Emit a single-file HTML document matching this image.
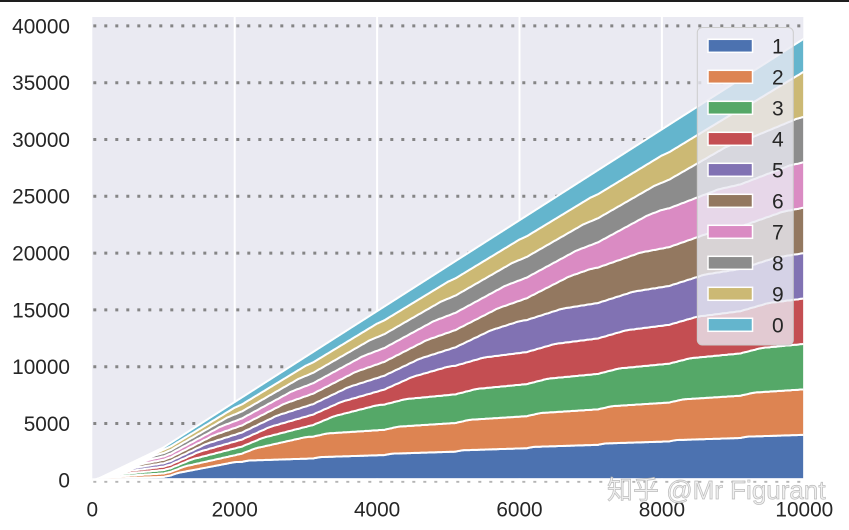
<!DOCTYPE html>
<html><head><meta charset="utf-8">
<style>
html,body{margin:0;padding:0;background:#fff;}
svg{display:block;}
text{font-family:"Liberation Sans","Noto Sans CJK SC",sans-serif;}
</style></head>
<body>
<svg id="s" width="849" height="530" viewBox="0 0 849 530" xmlns="http://www.w3.org/2000/svg">
<rect x="0" y="0" width="849" height="530" fill="#fff"/>
<rect x="0" y="0" width="849" height="2" fill="#1e1e1e"/>
<defs><clipPath id="ax"><rect x="93.3" y="18" width="710" height="460.3"/></clipPath></defs>
<rect x="92.3" y="17" width="712" height="463.3" fill="#EAEAF2"/>
<g stroke="#ffffff" stroke-width="2">
<line x1="234.7" y1="17" x2="234.7" y2="480"/>
<line x1="377.1" y1="17" x2="377.1" y2="480"/>
<line x1="519.5" y1="17" x2="519.5" y2="480"/>
<line x1="661.9" y1="17" x2="661.9" y2="480"/>
</g>
<g stroke="#858585" stroke-width="3" stroke-dasharray="3 8">
<line x1="93.3" y1="423.5" x2="803.3" y2="423.5"/>
<line x1="93.3" y1="366.7" x2="803.3" y2="366.7"/>
<line x1="93.3" y1="309.9" x2="803.3" y2="309.9"/>
<line x1="93.3" y1="253.1" x2="803.3" y2="253.1"/>
<line x1="93.3" y1="196.3" x2="803.3" y2="196.3"/>
<line x1="93.3" y1="139.5" x2="803.3" y2="139.5"/>
<line x1="93.3" y1="82.7" x2="803.3" y2="82.7"/>
<line x1="93.3" y1="25.9" x2="803.3" y2="25.9"/>
</g>
<g id="stack" clip-path="url(#ax)"></g>
<rect x="92.3" y="478.3" width="713" height="3" fill="#fff"/>
<rect x="803.3" y="16" width="3" height="466" fill="#fff"/>
<line x1="93.3" y1="481.8" x2="805" y2="481.8" stroke="#b4b4b4" stroke-width="1.8" stroke-dasharray="3 8"/>

<g fill="#262626" font-size="20.8" text-anchor="end">
<text x="70" y="487.7">0</text>
<text x="70" y="430.9">5000</text>
<text x="70" y="374.1">10000</text>
<text x="70" y="317.3">15000</text>
<text x="70" y="260.5">20000</text>
<text x="70" y="203.7">25000</text>
<text x="70" y="146.9">30000</text>
<text x="70" y="90.1">35000</text>
<text x="70" y="33.3">40000</text>
</g>
<g fill="#262626" font-size="20.8" text-anchor="middle">
<text x="92.3" y="516.7">0</text>
<text x="234.7" y="516.7">2000</text>
<text x="377.1" y="516.7">4000</text>
<text x="519.5" y="516.7">6000</text>
<text x="661.9" y="516.7">8000</text>
<text x="804.3" y="516.7">10000</text>
</g>

<rect x="697.3" y="27.5" width="96" height="317.5" rx="5" ry="5" fill="#EAEAF2" fill-opacity="0.8" stroke="#cccccc" stroke-width="1"/>
<g id="legend" stroke="#fff" stroke-width="1.5">
<rect x="708" y="39.3" width="44.5" height="13" fill="#4C72B0"/>
<rect x="708" y="70.3" width="44.5" height="13" fill="#DD8452"/>
<rect x="708" y="101.3" width="44.5" height="13" fill="#55A868"/>
<rect x="708" y="132.3" width="44.5" height="13" fill="#C44E52"/>
<rect x="708" y="163.3" width="44.5" height="13" fill="#8172B3"/>
<rect x="708" y="194.3" width="44.5" height="13" fill="#937860"/>
<rect x="708" y="225.3" width="44.5" height="13" fill="#DA8BC3"/>
<rect x="708" y="256.3" width="44.5" height="13" fill="#8C8C8C"/>
<rect x="708" y="287.3" width="44.5" height="13" fill="#CCB974"/>
<rect x="708" y="318.3" width="44.5" height="13" fill="#64B5CD"/>
</g>
<g fill="#262626" font-size="21">
<text x="772" y="53.3">1</text>
<text x="772" y="84.3">2</text>
<text x="772" y="115.3">3</text>
<text x="772" y="146.3">4</text>
<text x="772" y="177.3">5</text>
<text x="772" y="208.3">6</text>
<text x="772" y="239.3">7</text>
<text x="772" y="270.3">8</text>
<text x="772" y="301.3">9</text>
<text x="772" y="332.3">0</text>
</g>

<text x="607" y="499" font-size="26" fill="#eeeeee" fill-opacity="0.9" stroke="#a8a8a8" stroke-opacity="0.75" stroke-width="0.7">知乎 @Mr Figurant</text>
</svg>
<script>
(function(){
  var N=10000, step=10;
  var cnt=[0,0,0,0,0,0,0,0,0,0];
  var xs=[], data=[[],[],[],[],[],[],[],[],[],[]];
  for(var n=0;n<=N;n++){
    if(n>0){var m=n; while(m>0){cnt[m%10]++; m=Math.floor(m/10);} }
    if(n%step===0){xs.push(n); for(var d=0;d<10;d++) data[d].push(cnt[d]);}
  }
  var order=[1,2,3,4,5,6,7,8,9,0];
  var colors={1:"#4C72B0",2:"#DD8452",3:"#55A868",4:"#C44E52",5:"#8172B3",6:"#937860",7:"#DA8BC3",8:"#8C8C8C",9:"#CCB974",0:"#64B5CD"};
  function X(v){return 92.3+v*0.0712;}
  function Y(v){return 480.3-v*0.01136;}
  var base=xs.map(function(){return 0;});
  var g=document.getElementById("stack");
  var ns="http://www.w3.org/2000/svg";
  order.forEach(function(d){
    var top=base.map(function(b,j){return b+data[d][j];});
    var p=[];
    for(var j=0;j<xs.length;j++){p.push(X(xs[j]).toFixed(2)+","+Y(top[j]).toFixed(2));}
    for(var j=xs.length-1;j>=0;j--){p.push(X(xs[j]).toFixed(2)+","+Y(base[j]).toFixed(2));}
    var path=document.createElementNS(ns,"path");
    path.setAttribute("d","M"+p.join(" L")+" Z");
    path.setAttribute("fill",colors[d]);
    path.setAttribute("stroke","#ffffff");
    path.setAttribute("stroke-width","2");
    path.setAttribute("stroke-linejoin","round");
    g.appendChild(path);
    base=top;
  });
})();
</script>
</body></html>
